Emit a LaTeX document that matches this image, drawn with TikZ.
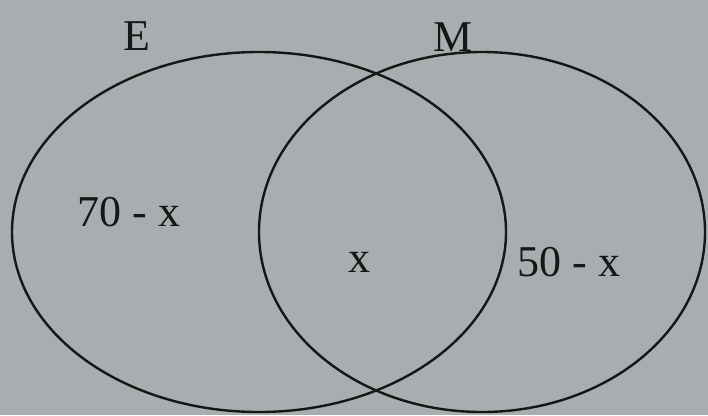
\documentclass[tikz,border=0pt]{standalone}
\usepackage{fontspec}
\setmainfont{Liberation Serif}
\definecolor{bg}{RGB}{168,174,175}
\definecolor{ink}{RGB}{22,22,22}
\tikzset{
  setcurve/.style={draw=ink, line width=2.4pt},
  lbl/.style={text=ink, font=\fontsize{44}{50}\selectfont, inner sep=0pt}
}
\begin{document}
\begin{tikzpicture}[x=1pt,y=-1pt]
\fill[bg] (0,0) rectangle (708,415);
\useasboundingbox (0,0) rectangle (708,415);
\draw[setcurve] (259,232) ellipse [x radius=247, y radius=180];
\draw[setcurve] (482,232) ellipse [x radius=223, y radius=180];
\node[lbl] (lE) at (137,36) {E};
\node[lbl] (lM) at (453,37) {M};
\node[lbl] (a) at (129,212) {70 - x};
\node[lbl] (b) at (359,262) {x};
\node[lbl] (c) at (569,262) {50 - x};
\end{tikzpicture}
\end{document}
